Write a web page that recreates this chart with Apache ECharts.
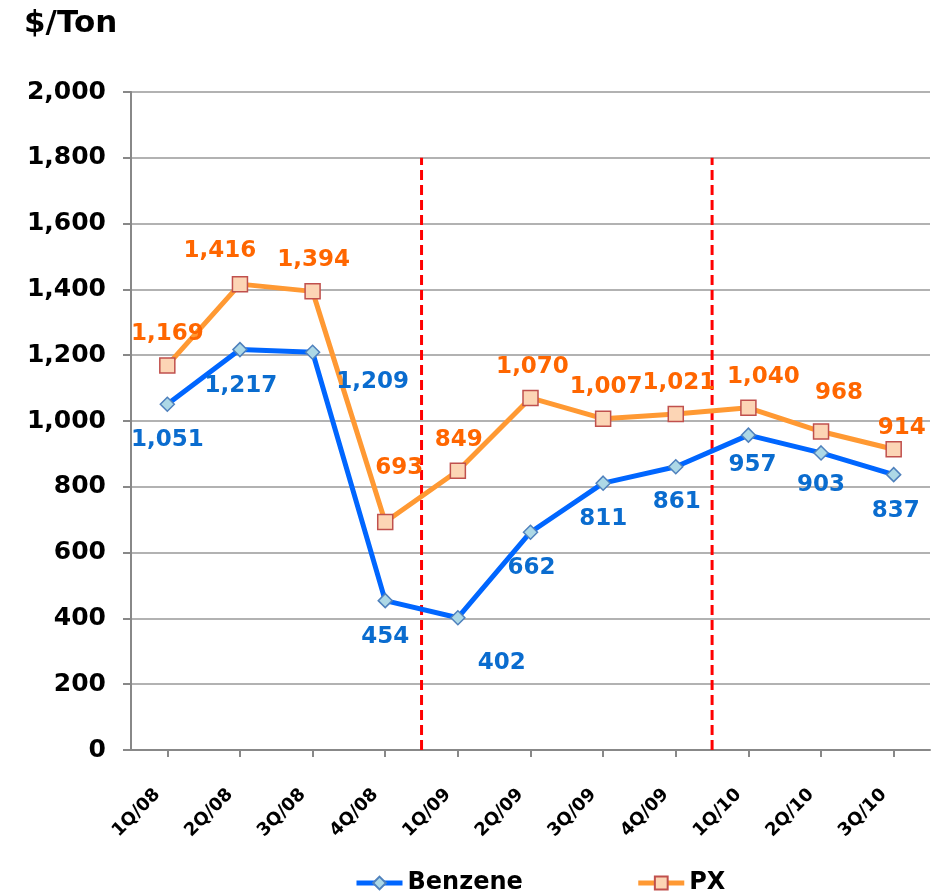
<!DOCTYPE html>
<html>
<head>
<meta charset="utf-8">
<script src="https://cdn.jsdelivr.net/npm/echarts@6/dist/echarts.min.js"></script>
<style>
  html, body { margin: 0; padding: 0; background: #fff; }
  #chart-container { width: 945px; height: 892px; }
</style>
</head>
<body>
<div id="chart-container"></div>
<script>
var categories = ['1Q/08', '2Q/08', '3Q/08', '4Q/08', '1Q/09', '2Q/09', '3Q/09', '4Q/09', '1Q/10', '2Q/10', '3Q/10'];
var benzene = [1051, 1217, 1209, 454, 402, 662, 811, 861, 957, 903, 837];
var px = [1169, 1416, 1394, 693, 849, 1070, 1007, 1021, 1040, 968, 914];
var dividers = [4, 8];      // boundaries between years, in category units
var dividerTop = 1800;

// where each value label sits relative to its point
var benzeneLabelOffsets = [[0, 36], [1, 36], [60, 30], [0, 36], [44, 45], [1, 36], [0, 36], [1, 35], [4, 30], [0, 32], [2, 36]];
var pxLabelOffsets = [[0, -31], [-20, -33], [1, -31], [14, -54], [1, -31], [2, -31], [3, -32], [3, -31], [15, -31], [18, -38], [8, -21]];

var dom = document.getElementById('chart-container');
var myChart = echarts.init(dom, null, { renderer: 'canvas' });

var font = 'DejaVu Sans';

function withLabels(values, offsets) {
  return values.map(function (v, i) {
    return { value: v, label: { offset: offsets[i] } };
  });
}

var dividerSeries = dividers.map(function (d) {
  return {
    type: 'line',
    xAxisIndex: 1,
    data: [[d, 0], [d, dividerTop]],
    symbol: 'none',
    silent: true,
    z: 1,
    lineStyle: { color: '#ff0000', width: 3, type: [10, 5] }
  };
});

var option = {
  animation: false,
  title: {
    text: '$/Ton',
    left: 19,
    top: 3,
    textStyle: { fontFamily: font, fontWeight: 'bold', fontSize: 31, color: '#000' }
  },
  legend: {
    data: ['Benzene', 'PX'],
    left: 349,
    top: 866,
    itemWidth: 46,
    itemHeight: 16,
    itemGap: 113,
    lineStyle: { width: 5 },
    textStyle: { fontFamily: font, fontWeight: 'bold', fontSize: 24, color: '#000' }
  },
  grid: { left: 131, right: 15, top: 92, bottom: 142 },
  xAxis: [
    {
      type: 'category',
      data: categories,
      boundaryGap: true,
      axisLine: { lineStyle: { color: '#888', width: 2 } },
      axisTick: { show: true, alignWithLabel: true, length: 7, lineStyle: { color: '#888', width: 2 } },
      axisLabel: {
        rotate: 45,
        margin: 32,
        padding: [0, 14, 0, 0],
        fontFamily: font,
        fontWeight: 'bold',
        fontSize: 18,
        color: '#000'
      }
    },
    {
      type: 'value',
      min: 0,
      max: categories.length,
      show: false
    }
  ],
  yAxis: {
    type: 'value',
    min: 0,
    max: 2000,
    interval: 200,
    axisLine: { show: true, lineStyle: { color: '#888', width: 2 } },
    axisTick: { show: true, length: 8, lineStyle: { color: '#888', width: 2 } },
    splitLine: { lineStyle: { color: '#999', width: 1.5 } },
    axisLabel: {
      margin: 25,
      fontFamily: font,
      fontWeight: 'bold',
      fontSize: 25,
      color: '#000',
      formatter: function (v) { return v.toLocaleString('en-US'); }
    }
  },
  series: dividerSeries.concat([
    {
      name: 'Benzene',
      type: 'line',
      data: withLabels(benzene, benzeneLabelOffsets),
      symbol: 'diamond',
      symbolSize: 14,
      z: 3,
      lineStyle: { color: '#0066ff', width: 5 },
      itemStyle: { color: '#add8e6', borderColor: '#4f81bd', borderWidth: 1.5 },
      label: {
        show: true,
        position: 'inside',
        fontFamily: font,
        fontWeight: 'bold',
        fontSize: 23,
        color: '#0a6ccf',
        formatter: function (p) { return p.value.toLocaleString('en-US'); }
      }
    },
    {
      name: 'PX',
      type: 'line',
      data: withLabels(px, pxLabelOffsets),
      symbol: 'rect',
      symbolSize: 15,
      z: 3,
      lineStyle: { color: '#ff9933', width: 5 },
      itemStyle: { color: '#fcd5b5', borderColor: '#c0504d', borderWidth: 1.5 },
      label: {
        show: true,
        position: 'inside',
        fontFamily: font,
        fontWeight: 'bold',
        fontSize: 23,
        color: '#ff6600',
        formatter: function (p) { return p.value.toLocaleString('en-US'); }
      }
    }
  ])
};

myChart.setOption(option);
window.addEventListener('resize', myChart.resize);
</script>
</body>
</html>
